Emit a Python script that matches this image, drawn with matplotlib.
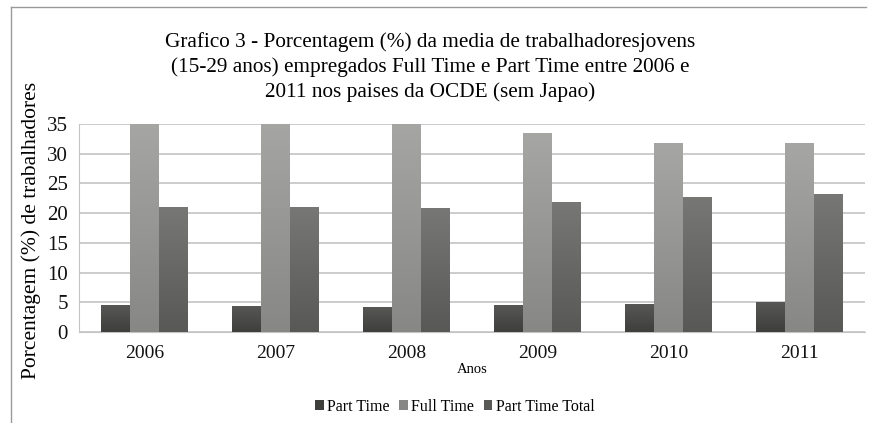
import numpy as np
import matplotlib
matplotlib.use("Agg")
import matplotlib.pyplot as plt
from matplotlib.colors import LinearSegmentedColormap
from matplotlib.lines import Line2D
from matplotlib.patches import Patch

plt.rcParams['font.family'] = ['Liberation Serif', 'DejaVu Serif']

# data
anos = ['2006', '2007', '2008', '2009', '2010', '2011']
part_time = [4.4, 4.3, 4.2, 4.4, 4.7, 5.0]
full_time = [35.4, 35.8, 35.6, 33.4, 31.7, 31.7]
part_time_total = [21.0, 20.9, 20.8, 21.8, 22.6, 23.1]
series_names = ['Part Time', 'Full Time', 'Part Time Total']

# (top colour, bottom colour) for the gradient fill
colours = [('#575855', '#3e3f3d'), ('#a6a7a4', '#878785'), ('#777875', '#585856')]

fig = plt.figure(figsize=(8.76, 4.23), dpi=100)
ax = fig.add_axes([0.0902, 0.2151, 0.8973, 0.4918])

x = np.arange(len(anos))
width = 0.22
grad = np.linspace(1, 0, 256).reshape(-1, 1)

for k, vals in enumerate([part_time, full_time, part_time_total]):
    cmap = LinearSegmentedColormap.from_list('g%d' % k, [colours[k][1], colours[k][0]])
    bars = ax.bar(x + (k - 1) * width, vals, width, color=colours[k][1], zorder=2)
    for b in bars:
        x0, y0 = b.get_x(), b.get_y()
        ax.imshow(grad, cmap=cmap, aspect='auto', zorder=3, vmin=0, vmax=1,
                  extent=(x0, x0 + b.get_width(), y0, y0 + b.get_height()))

ax.set_xlim(-0.5, len(anos) - 0.5)
ax.set_ylim(0, 35)
ax.set_yticks(range(0, 36, 5))
ax.set_xticks(x)
ax.set_xticklabels(anos)
ax.tick_params(length=0, colors='#111111')
ax.tick_params(axis='x', pad=9, labelsize=14)
ax.tick_params(axis='y', pad=8, labelsize=15)
ax.yaxis.grid(True, color='#c8c8c8', linewidth=1.3, zorder=0)
ax.set_axisbelow(True)
for s in ['top', 'right']:
    ax.spines[s].set_visible(False)
for s in ['left', 'bottom']:
    ax.spines[s].set_color('#c4c4c4')

ax.set_xlabel('Anos', fontsize=10.5, labelpad=1)
fig.text(0.035, 0.456, 'Porcentagem (%) de trabalhadores', rotation=90,
         fontsize=15.5, ha='center', va='center')

fig.text(0.491, 0.925,
         'Grafico 3 - Porcentagem (%) da media de trabalhadoresjovens\n'
         '(15-29 anos) empregados Full Time e Part Time entre 2006 e\n'
         '2011 nos paises da OCDE (sem Japao)',
         ha='center', va='top', fontsize=15.3, linespacing=1.36)

handles = [Patch(facecolor=c[1], edgecolor='none') for c in colours]
fig.legend(handles, series_names, loc='center', bbox_to_anchor=(0.519, 0.038),
           ncol=3, frameon=False, fontsize=11.5, handlelength=0.55, handleheight=0.55,
           handletextpad=0.2, columnspacing=0.6)

# outer frame lines visible in the reference
fig.add_artist(Line2D([11 / 876, 866 / 876], [1 - 7 / 423, 1 - 7 / 423],
                      transform=fig.transFigure, color='#9a9a9a', linewidth=1))
fig.add_artist(Line2D([11 / 876, 11 / 876], [0, 1 - 7 / 423],
                      transform=fig.transFigure, color='#9a9a9a', linewidth=1))

fig.savefig('out.png', dpi=100)
